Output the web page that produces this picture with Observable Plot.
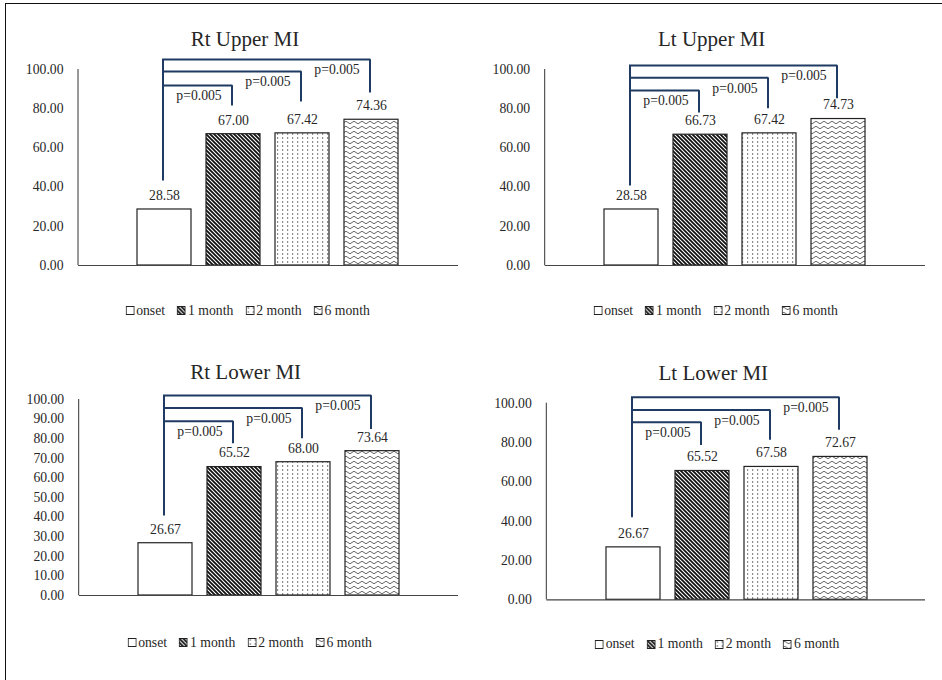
<!DOCTYPE html>
<html><head><meta charset="utf-8">
<script src="https://cdn.jsdelivr.net/npm/d3@7"></script>
<script src="https://cdn.jsdelivr.net/npm/@observablehq/plot@0.6"></script>
<style>
body{margin:0;background:#fff;}
#root{position:relative;width:942px;height:680px;overflow:hidden;font-family:"Liberation Serif","Times New Roman",serif;color:#262626;background:#fff;}
.frame{position:absolute;left:5px;top:3px;width:1000px;height:1000px;border-left:1.5px solid #111;border-top:1.5px solid #111;}
.title{position:absolute;font-size:21px;transform:translate(-50%,-50%);white-space:nowrap;}
.legend{position:absolute;font-size:13.7px;transform:translate(-50%,-50%);white-space:nowrap;display:flex;align-items:center;}
.legend .item{display:flex;align-items:center;margin-right:12px}
.legend .item:last-child{margin-right:0}
.legend svg{margin-right:2px;display:block}
.panel{position:absolute}
</style></head>
<body>
<svg width="0" height="0" style="position:absolute">
  <defs>
    <pattern id="pDiag" patternUnits="userSpaceOnUse" width="4" height="4">
      <rect width="4" height="4" fill="#fff"/>
      <path d="M-1,-1 L5,5 M-1,3 L1,5 M3,-1 L5,1" stroke="#111" stroke-width="1.8"/>
    </pattern>
    <pattern id="pDots" patternUnits="userSpaceOnUse" width="5" height="4">
      <rect width="5" height="4" fill="#fff"/>
      <rect x="2" y="1.4" width="1.2" height="1.2" fill="#444"/>
    </pattern>
    <pattern id="pWave" patternUnits="userSpaceOnUse" width="8" height="5">
      <rect width="8" height="5" fill="#fff"/>
      <path d="M0,2.5 Q2,0 4,2.5 Q6,5 8,2.5" fill="none" stroke="#555" stroke-width="0.9"/>
    </pattern>
  </defs>
</svg>
<div id="root"><div class="frame"></div></div>
<script>
// ---- data ----
const series = ["onset", "1 month", "2 month", "6 month"];
const titles = ["Rt Upper MI", "Lt Upper MI", "Rt Lower MI", "Lt Lower MI"];
const rtUpper = [28.58, 67.00, 67.42, 74.36];
const ltUpper = [28.58, 66.73, 67.42, 74.73];
const rtLower = [26.67, 65.52, 68.00, 73.64];
const ltLower = [26.67, 65.52, 67.58, 72.67];
const pValues = ["p=0.005", "p=0.005", "p=0.005"];
const ticks20 = [0, 20, 40, 60, 80, 100];
const ticks10 = [0, 10, 20, 30, 40, 50, 60, 70, 80, 90, 100];
// significance brackets (data units): horizontal levels, drop ends, stem base
const rtUpperLevels = [91.8, 99.0, 105.1], rtUpperDrops = [82.1, 84.2, 88.8], rtUpperStem = 43.4;
const ltUpperLevels = [89.3, 95.8, 102.0], ltUpperDrops = [78.6, 80.8, 85.9], ltUpperStem = 40.8;
const rtLowerLevels = [88.9, 95.6, 102.0], rtLowerDrops = [78.2, 80.8, 85.5], rtLowerStem = 40.8;
const ltLowerLevels = [90.3, 96.6, 103.0], ltLowerDrops = [79.3, 81.9, 87.0], ltLowerStem = 42.0;

// ---- styles / layout ----
const fills = ["#fff", "url(#pDiag)", "url(#pDots)", "url(#pWave)"];
const navy = "#1f3b63";
const layout = [
  {left: 0,   top: 0,   height: 290,   mt: 69,   mb: 25, ml: 78,   mr: 12, tx: 245,   ty: 39,   lx: 247.5, ly: 310.7},
  {left: 470, top: 0,   height: 290,   mt: 69,   mb: 25, ml: 74.7, mr: 15, tx: 241.7, ty: 39,   lx: 245.5, ly: 310.7},
  {left: 0,   top: 340, height: 280,   mt: 59,   mb: 25, ml: 78.7, mr: 12, tx: 245.7, ty: 31.7, lx: 249.5, ly: 302.7},
  {left: 470, top: 340, height: 284.3, mt: 62.7, mb: 25, ml: 76.3, mr: 15, tx: 243.3, ty: 33.3, lx: 247,   ly: 304}
];
const panels = [
  {values: rtUpper, ticks: ticks20, levels: rtUpperLevels, drops: rtUpperDrops, stem: rtUpperStem},
  {values: ltUpper, ticks: ticks20, levels: ltUpperLevels, drops: ltUpperDrops, stem: ltUpperStem},
  {values: rtLower, ticks: ticks10, levels: rtLowerLevels, drops: rtLowerDrops, stem: rtLowerStem},
  {values: ltLower, ticks: ticks20, levels: ltLowerLevels, drops: ltLowerDrops, stem: ltLowerStem}
];

const root = document.getElementById("root");
const fmt = d3.format(".2f");

function yAxisLine(index, scales, values, dims) {
  const l = document.createElementNS("http://www.w3.org/2000/svg", "line");
  l.setAttribute("x1", dims.marginLeft);
  l.setAttribute("x2", dims.marginLeft);
  l.setAttribute("y1", scales.y(0));
  l.setAttribute("y2", scales.y(100));
  l.setAttribute("stroke", "#333");
  l.setAttribute("stroke-width", 1);
  return l;
}

panels.forEach((P, k) => {
  const L = layout[k];
  const data = series.map((s, i) => ({series: s, value: P.values[i]}));
  const bracket = [];
  P.levels.forEach((lv, i) => {
    const t = series[i + 1];
    bracket.push({g: i, x: series[0], y: lv}, {g: i, x: t, y: lv}, {g: i, x: t, y: P.drops[i]});
  });
  const stem = [{x: series[0], y: P.stem}, {x: series[0], y: d3.max(P.levels)}];
  const pData = pValues.map((p, i) => ({x: series[i + 1], y: P.levels[i], label: p}));
  const x0 = L.ml + 51.8;

  const chart = Plot.plot({
    width: 470, height: L.height,
    marginLeft: L.ml, marginRight: L.mr, marginTop: L.mt, marginBottom: L.mb,
    style: {background: "transparent", overflow: "visible", fontFamily: "'Liberation Serif', 'Times New Roman', serif", fontSize: "13.7px", color: "#262626"},
    x: {type: "band", domain: series, range: [x0, x0 + 276], paddingInner: 15 / 69, paddingOuter: 7.5 / 69, align: 0.5, axis: null},
    y: {domain: [0, 100], ticks: P.ticks, tickFormat: fmt, tickSize: 0, tickPadding: 15, label: null},
    color: {domain: series, range: fills},
    marks: [
      Plot.barY(data, {x: "series", y: "value", fill: "series", stroke: "#222", strokeWidth: 1.2}),
      Plot.ruleY([0], {stroke: "#444", strokeWidth: 1.2}),
      yAxisLine,
      Plot.text(data, {x: "series", y: "value", text: d => fmt(d.value), dy: -14, fill: "#262626"}),
      Plot.line(bracket, {x: "x", y: "y", z: "g", stroke: navy, strokeWidth: 2, dx: -1.5, strokeLinejoin: "miter", strokeLinecap: "square", curve: "linear"}),
      Plot.line(stem, {x: "x", y: "y", stroke: navy, strokeWidth: 2, dx: -1.5, strokeLinecap: "butt"}),
      Plot.text(pData, {x: "x", y: "y", text: "label", dx: -34.5, dy: 10.4, fill: "#262626"})
    ]
  });

  const panel = document.createElement("div");
  panel.className = "panel";
  panel.style.left = L.left + "px";
  panel.style.top = L.top + "px";
  panel.style.width = "470px";
  panel.appendChild(chart);
  chart.style.position = "absolute";
  chart.style.left = "0px";
  chart.style.top = "0px";
  chart.style.maxWidth = "none";

  const title = document.createElement("div");
  title.className = "title";
  title.textContent = titles[k];
  title.style.left = L.tx + "px";
  title.style.top = L.ty + "px";
  panel.appendChild(title);

  const legend = document.createElement("div");
  legend.className = "legend";
  legend.style.left = L.lx + "px";
  legend.style.top = L.ly + "px";
  series.forEach((s, i) => {
    const item = document.createElement("div");
    item.className = "item";
    item.innerHTML = `<svg width="9" height="9"><rect x="0.5" y="0.5" width="8" height="8" fill="${fills[i]}" stroke="#222" stroke-width="1"/></svg><span>${s}</span>`;
    legend.appendChild(item);
  });
  panel.appendChild(legend);

  root.appendChild(panel);
});
</script>
</body></html>
